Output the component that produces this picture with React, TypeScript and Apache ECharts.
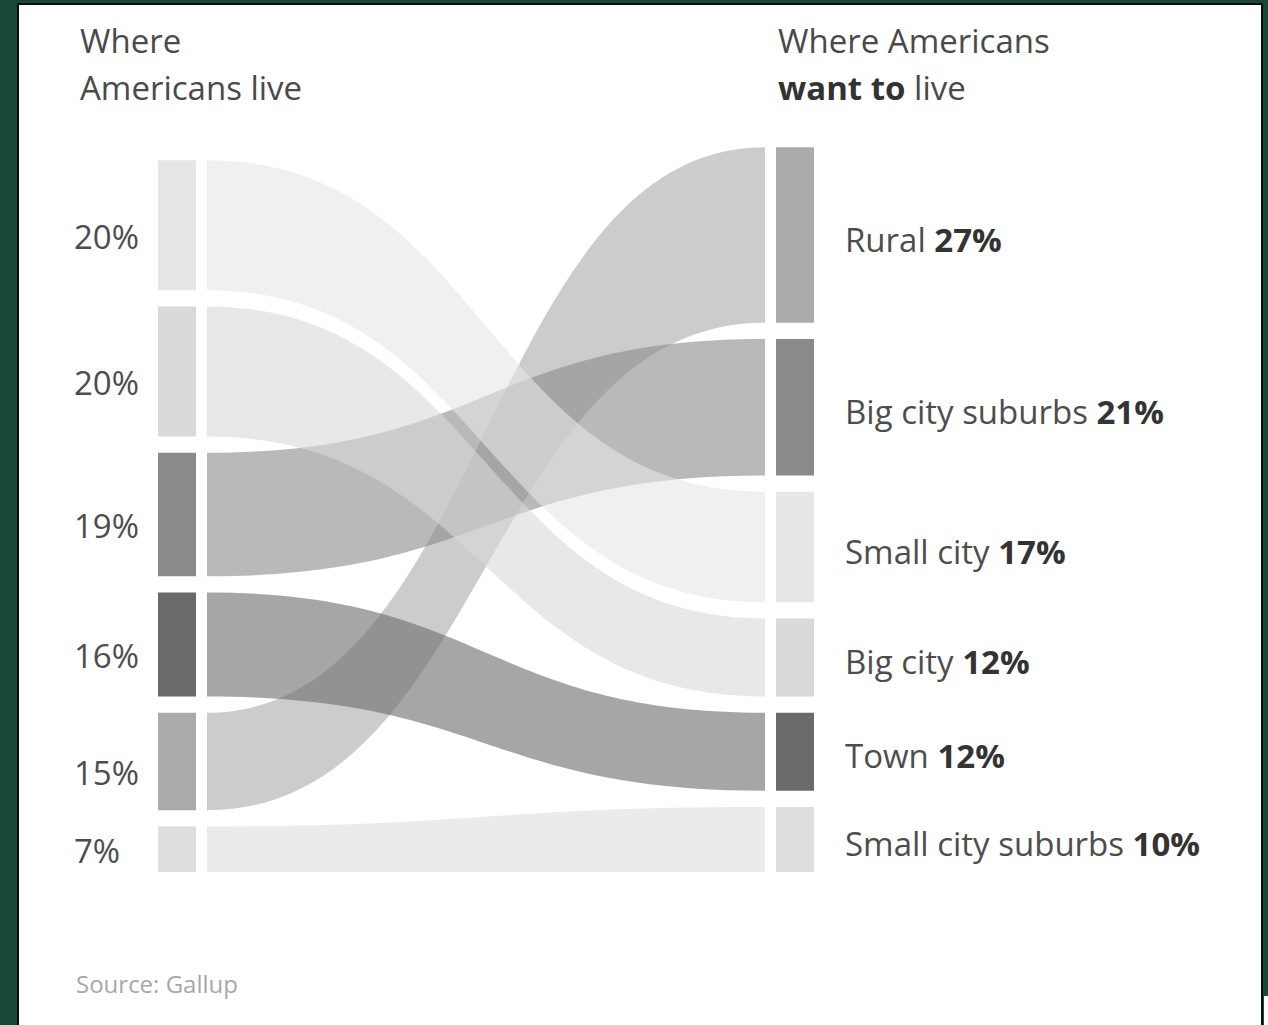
import React, { useEffect, useRef } from "react";
import * as echarts from "echarts";

// ---------- data ----------
const categories = ["Rural", "Big city suburbs", "Small city", "Big city", "Town", "Small city suburbs"];
const livePct = [15, 19, 20, 20, 16, 7]; // where Americans live
const wantPct = [27, 21, 17, 12, 12, 10]; // where Americans want to live
const categoryColors = ["#aaaaaa", "#8a8a8a", "#e6e6e6", "#d9d9d9", "#6a6a6a", "#dedede"];
const leftTitle = ["Where", "Americans live"];
const rightTitleLine1 = "Where Americans";
const rightTitleBold = "want to";
const rightTitleRest = "live";
const sourceText = "Source: Gallup";

// ---------- layout constants ----------
const W = 1268;
const H = 1025;
const GAP = 2.5; // gap between nodes, in percentage-point units
const PX_PER_PCT = 6.5;
const NODE_W = 38;
const NODE_GAP = 11;
const BOTTOM_Y = 872;
const LEFT_X = 158;
const RIGHT_X = 814;
const CURVE = 0.5;
const FONT = "'Open Sans', 'Noto Sans', sans-serif";

function stack(values: number[]) {
  const order = values.map((v, i) => i).sort((a, b) => values[b] - values[a]);
  const total = values.reduce((s, v) => s + v, 0) + GAP * (values.length - 1);
  const pos: { top: number; bottom: number }[] = new Array(values.length);
  let y = total;
  order.forEach((i) => {
    pos[i] = { top: y, bottom: y - values[i] };
    y = y - values[i] - GAP;
  });
  return { pos, total };
}

export default function App() {
  const ref = useRef<HTMLDivElement>(null);
  useEffect(() => {
    if (!ref.current) return;
    const chart = echarts.init(ref.current, undefined, { renderer: "svg" });
    const left = stack(livePct);
    const right = stack(wantPct);
    const yMax = Math.max(left.total, right.total);

    const nodeData: any[] = [];
    categories.forEach((c, i) => {
      nodeData.push([0, left.pos[i].top, left.pos[i].bottom, i, livePct[i]]);
      nodeData.push([1, right.pos[i].top, right.pos[i].bottom, i, wantPct[i]]);
    });
    const linkData = categories.map((c, i) => [
      left.pos[i].top,
      left.pos[i].bottom,
      right.pos[i].top,
      right.pos[i].bottom,
      i,
    ]);

    const regular = { fontFamily: FONT, fontSize: 33, fill: "#4d4d4d", color: "#4d4d4d" };
    const bold = { fontFamily: FONT, fontSize: 33, fontWeight: "bold", fill: "#333333", color: "#333333" };

    const option: any = {
      animation: false,
      backgroundColor: "#184836",
      graphic: [
        {
          type: "rect",
          z: -10,
          shape: { x: 18, y: 4, width: 1244, height: 1040 },
          style: { fill: "#ffffff", stroke: "#0d0d0d", lineWidth: 2 },
        },
        {
          type: "rect",
          z: -10,
          shape: { x: 1264, y: 996, width: 6, height: 30 },
          style: { fill: "#ffffff" },
        },
        {
          type: "text",
          x: 80,
          y: 40,
          style: { text: leftTitle[0], font: `33px ${FONT}`, fill: "#4a4a4a", verticalAlign: "middle" },
        },
        {
          type: "text",
          x: 80,
          y: 87,
          style: { text: leftTitle[1], font: `33px ${FONT}`, fill: "#4a4a4a", verticalAlign: "middle" },
        },
        {
          type: "text",
          x: 778,
          y: 40,
          style: { text: rightTitleLine1, font: `33px ${FONT}`, fill: "#4a4a4a", verticalAlign: "middle" },
        },
        {
          type: "text",
          x: 778,
          y: 87,
          style: {
            text: `{b|${rightTitleBold} }{n|${rightTitleRest}}`,
            verticalAlign: "middle",
            rich: { b: bold, n: { ...regular, fill: "#4a4a4a", color: "#4a4a4a" } },
          },
        },
        {
          type: "text",
          x: 76,
          y: 983,
          style: { text: sourceText, font: `24px ${FONT}`, fill: "#a8a8a8", verticalAlign: "middle" },
        },
      ],
      grid: {
        left: LEFT_X,
        right: W - RIGHT_X,
        bottom: H - BOTTOM_Y,
        top: BOTTOM_Y - yMax * PX_PER_PCT,
      },
      xAxis: { type: "value", min: 0, max: 1, show: false },
      yAxis: { type: "value", min: 0, max: yMax, show: false },
      series: [
        {
          type: "custom",
          coordinateSystem: "cartesian2d",
          silent: true,
          z: 1,
          data: linkData,
          renderItem: (params: any, api: any) => {
            const lt = api.coord([0, api.value(0)]);
            const lb = api.coord([0, api.value(1)]);
            const rt = api.coord([1, api.value(2)]);
            const rb = api.coord([1, api.value(3)]);
            const ci = api.value(4);
            const x0 = lt[0] + NODE_W + NODE_GAP;
            const x1 = rt[0] - NODE_W - NODE_GAP;
            const c0 = x0 + (x1 - x0) * CURVE;
            const c1 = x1 - (x1 - x0) * CURVE;
            const d =
              `M${x0},${lt[1]} C${c0},${lt[1]} ${c1},${rt[1]} ${x1},${rt[1]} ` +
              `L${x1},${rb[1]} C${c1},${rb[1]} ${c0},${lb[1]} ${x0},${lb[1]} Z`;
            return {
              type: "path",
              shape: { pathData: d },
              style: { fill: categoryColors[ci], opacity: 0.6 },
            };
          },
        },
        {
          type: "custom",
          coordinateSystem: "cartesian2d",
          silent: true,
          z: 2,
          data: nodeData,
          renderItem: (params: any, api: any) => {
            const side = api.value(0);
            const pt = api.coord([side, api.value(1)]);
            const pb = api.coord([side, api.value(2)]);
            const ci = api.value(3);
            const pct = api.value(4);
            const x = side === 0 ? pt[0] : pt[0] - NODE_W;
            const center = (pt[1] + pb[1]) / 2;
            const children: any[] = [
              {
                type: "rect",
                shape: { x, y: pt[1], width: NODE_W, height: pb[1] - pt[1] },
                style: { fill: categoryColors[ci] },
              },
            ];
            if (side === 0) {
              children.push({
                type: "text",
                x: pt[0] - 84,
                y: Math.min(center + 11, pb[1] - 22),
                style: {
                  text: `${pct}%`,
                  font: `33px ${FONT}`,
                  fill: "#4d4d4d",
                  verticalAlign: "middle",
                  align: "left",
                },
              });
            } else {
              children.push({
                type: "text",
                x: pt[0] + 31,
                y: center + 4,
                style: {
                  text: `{n|${categories[ci]} }{b|${pct}%}`,
                  verticalAlign: "middle",
                  align: "left",
                  rich: { n: regular, b: bold },
                },
              });
            }
            return { type: "group", children };
          },
        },
      ],
    };
    chart.setOption(option);
    return () => chart.dispose();
  }, []);
  return (
    <div
      ref={ref}
      style={{ position: "fixed", left: 0, top: 0, width: W, height: H }}
    />
  );
}
